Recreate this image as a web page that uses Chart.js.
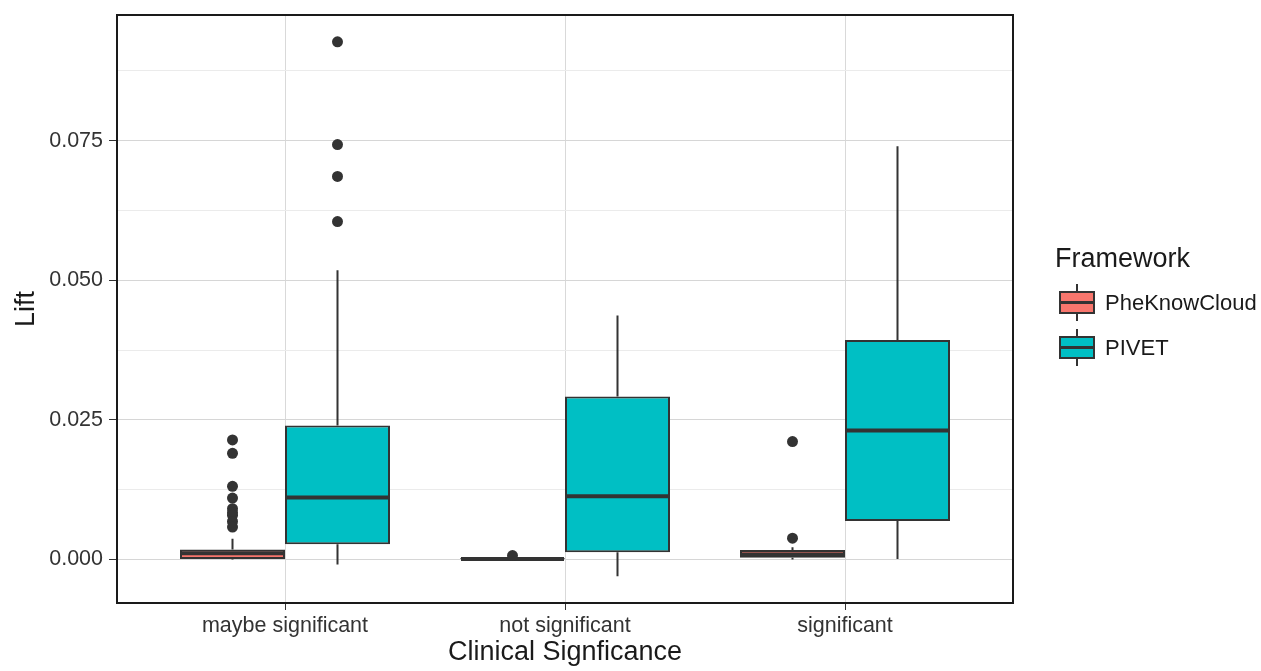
<!DOCTYPE html>
<html>
<head>
<meta charset="utf-8">
<script src="https://cdn.jsdelivr.net/npm/chart.js@4/dist/chart.umd.min.js"></script>
<style>
  body { margin: 0; background: #fff; font-family: 'Liberation Sans', Arial, sans-serif; }
  #wrap { position: relative; width: 1261px; height: 671px; }
  #legend { position: absolute; left: 1055px; top: 243px; color: #1a1a1a; }
  #legend .title { font-size: 27px; margin-bottom: 6px; }
  #legend .item { display: flex; align-items: center; height: 45px; }
  #legend .key { position: relative; width: 36px; height: 37px; margin-left: 4px; margin-right: 10px; }
  #legend .key .wh { position: absolute; left: 17px; width: 2px; top: 0; bottom: 0; background: #333; }
  #legend .key .bx { position: absolute; left: 0; right: 0; top: 7px; height: 19px; border: 2px solid #333; }
  #legend .key .md { position: absolute; left: 0; right: 0; top: 17px; height: 3px; background: #333; }
  #legend .lab { font-size: 22px; color: #1a1a1a; }
</style>
</head>
<body>
<div id="wrap">
  <canvas id="box-chart" width="1261" height="671"></canvas>
  <div id="legend"></div>
</div>
<script>
const categories = ['maybe significant', 'not significant', 'significant'];
const frameworks = ['PheKnowCloud', 'PIVET'];
const colors = ['#F8766D', '#00BFC4'];

// PheKnowCloud
const pheLow = [0.0000, -0.0001, 0.0000];
const pheQ1 = [0.0001, 0.0000, 0.0003];
const pheMed = [0.0011, 0.0001, 0.0009];
const pheQ3 = [0.0018, 0.0002, 0.0017];
const pheHigh = [0.0037, 0.0004, 0.0022];
const pheOut = [
  [0.0214, 0.0190, 0.0131, 0.0110, 0.0091, 0.0084, 0.0079, 0.0068, 0.0058],
  [0.0007],
  [0.0211, 0.0038]
];

// PIVET
const pivLow = [-0.0009, -0.0030, 0.0001];
const pivQ1 = [0.0027, 0.0013, 0.0069];
const pivMed = [0.0111, 0.0113, 0.0231];
const pivQ3 = [0.0240, 0.0292, 0.0393];
const pivHigh = [0.0518, 0.0437, 0.0740];
const pivOut = [
  [0.0927, 0.0743, 0.0686, 0.0605],
  [],
  []
];

const yTicks = [0, 0.0125, 0.025, 0.0375, 0.05, 0.0625, 0.075, 0.0875];
const yMajor = [0, 0.025, 0.05, 0.075];

const stats = [
  { low: pheLow, q1: pheQ1, med: pheMed, q3: pheQ3, high: pheHigh, out: pheOut },
  { low: pivLow, q1: pivQ1, med: pivMed, q3: pivQ3, high: pivHigh, out: pivOut }
];

const isMajor = v => yMajor.some(m => Math.abs(m - v) < 1e-9);
const FONT = "'Liberation Sans', Arial, sans-serif";

const boxPlugin = {
  id: 'boxExtras',
  afterDatasetsDraw(chart) {
    const ctx = chart.ctx;
    const y = chart.scales.y;
    ctx.save();
    ctx.strokeStyle = '#333333';
    ctx.fillStyle = '#333333';
    stats.forEach((s, d) => {
      const meta = chart.getDatasetMeta(d);
      meta.data.forEach((el, i) => {
        const x = el.x;
        const half = el.width / 2;
        // whiskers
        ctx.lineWidth = 2;
        ctx.beginPath();
        ctx.moveTo(x, y.getPixelForValue(s.q3[i]));
        ctx.lineTo(x, y.getPixelForValue(s.high[i]));
        ctx.moveTo(x, y.getPixelForValue(s.q1[i]));
        ctx.lineTo(x, y.getPixelForValue(s.low[i]));
        ctx.stroke();
        // median
        ctx.lineWidth = 4;
        ctx.beginPath();
        ctx.moveTo(x - half + 1, y.getPixelForValue(s.med[i]));
        ctx.lineTo(x + half - 1, y.getPixelForValue(s.med[i]));
        ctx.stroke();
        // outliers
        s.out[i].forEach(v => {
          ctx.beginPath();
          ctx.arc(x, y.getPixelForValue(v), 5.5, 0, Math.PI * 2);
          ctx.fill();
        });
      });
    });
    ctx.restore();
  },
  afterDraw(chart) {
    const a = chart.chartArea;
    const ctx = chart.ctx;
    ctx.save();
    ctx.strokeStyle = '#1a1a1a';
    ctx.lineWidth = 2;
    ctx.strokeRect(a.left, a.top, a.right - a.left, a.bottom - a.top);
    ctx.restore();
  }
};

const ctx = document.getElementById('box-chart').getContext('2d');
const chart = new Chart(ctx, {
  type: 'bar',
  data: {
    datasets: frameworks.map((name, d) => ({
      label: name,
      data: categories.map((c, i) => ({ x: i, y: [stats[d].q1[i], stats[d].q3[i]] })),
      backgroundColor: colors[d],
      borderColor: '#333333',
      borderWidth: 2,
      borderSkipped: false,
      categoryPercentage: 0.75,
      barPercentage: 1.0
    }))
  },
  plugins: [boxPlugin],
  options: {
    responsive: false,
    animation: false,
    layout: { padding: { top: 15, right: 248, left: 0, bottom: 0 } },
    plugins: { legend: { display: false }, tooltip: { enabled: false } },
    scales: {
      x: {
        type: 'linear',
        min: -0.6,
        max: 2.6,
        offset: false,
        afterBuildTicks: scale => { scale.ticks = categories.map((c, i) => ({ value: i })); },
        afterFit: scale => { scale.height = 68; scale.paddingLeft = 0; scale.paddingRight = 0; },
        ticks: {
          callback: v => categories[v],
          font: { family: FONT, size: 21.5 },
          color: '#333333',
          padding: 3,
          maxRotation: 0
        },
        grid: { offset: false, color: '#d9d9d9', lineWidth: 1, tickLength: 7, tickColor: '#333333', tickWidth: 1 },
        border: { display: false },
        title: {
          display: true,
          text: 'Clinical Signficance',
          font: { family: FONT, size: 27 },
          color: '#1a1a1a',
          padding: { top: 0, bottom: 2 }
        }
      },
      y: {
        min: -0.0078,
        max: 0.0975,
        afterBuildTicks: scale => { scale.ticks = yTicks.map(v => ({ value: v })); },
        afterFit: scale => { scale.width = 117; scale.paddingTop = 0; scale.paddingBottom = 0; },
        ticks: {
          callback: v => (isMajor(v) ? v.toFixed(3) : ''),
          font: { family: FONT, size: 21.5 },
          color: '#333333',
          padding: 6
        },
        grid: {
          color: c => (c.tick && isMajor(c.tick.value) ? '#d6d6d6' : '#ebebeb'),
          tickColor: c => (c.tick && isMajor(c.tick.value) ? '#333333' : 'rgba(0,0,0,0)'),
          tickLength: 8,
          lineWidth: 1
        },
        border: { display: false },
        title: {
          display: true,
          text: 'Lift',
          font: { family: FONT, size: 27 },
          color: '#1a1a1a',
          padding: { top: 10, bottom: 0 }
        }
      }
    }
  }
});

// legend (ggplot-style boxplot keys)
const legend = document.getElementById('legend');
legend.innerHTML = '<div class="title">Framework</div>' + frameworks.map((name, d) => `
  <div class="item">
    <div class="key"><div class="wh"></div><div class="bx" style="background:${colors[d]}"></div><div class="md"></div></div>
    <div class="lab">${name}</div>
  </div>`).join('');
</script>
</body>
</html>
